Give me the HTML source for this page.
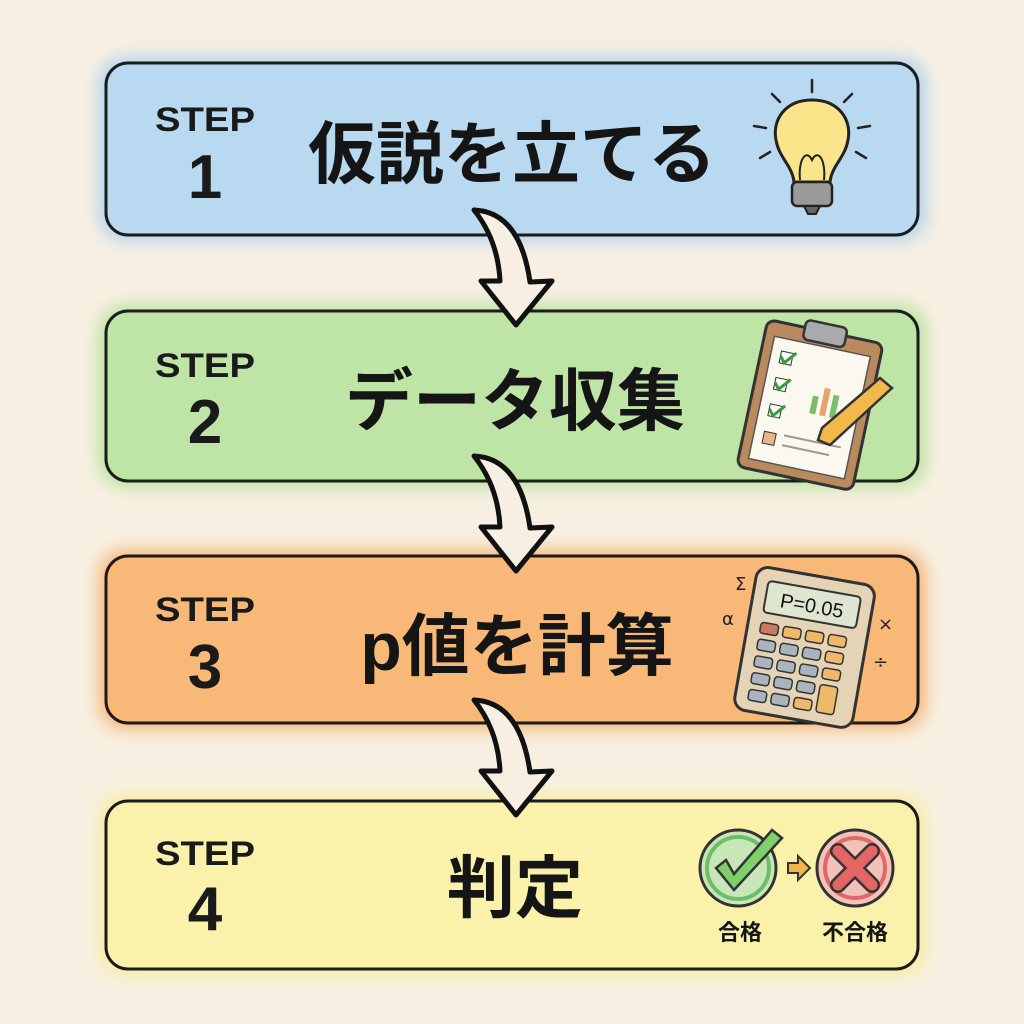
<!DOCTYPE html>
<html><head><meta charset="utf-8"><style>
html,body{margin:0;padding:0;background:#f7f0e2;}
svg{display:block}
.step{font-family:"Liberation Sans","Noto Sans CJK JP",sans-serif;font-weight:700;fill:#1a1a1a}
.t{font-family:"Liberation Sans","Noto Sans CJK JP",sans-serif;font-weight:700;fill:#151515}
</style></head><body>
<svg width="1024" height="1024" viewBox="0 0 1024 1024" xmlns="http://www.w3.org/2000/svg">
<defs>
<filter id="g" x="-10%" y="-30%" width="120%" height="160%"><feGaussianBlur stdDeviation="9"/></filter>
</defs>
<rect width="1024" height="1024" fill="#f7f0e2"/>
<rect x="100" y="58" width="825" height="182" rx="24" fill="#a9d0ef" filter="url(#g)"/>
<rect x="100" y="306" width="825" height="180" rx="24" fill="#b2e096" filter="url(#g)"/>
<rect x="100" y="551" width="825" height="177" rx="24" fill="#f6ad6a" filter="url(#g)"/>
<rect x="100" y="796" width="825" height="178" rx="24" fill="#f8eb98" filter="url(#g)"/>
<rect x="106" y="63" width="812" height="172" rx="22" fill="#b9d9f1" stroke="#1b1b1b" stroke-width="3"/>
<rect x="106" y="311" width="812" height="170" rx="22" fill="#bfe5a6" stroke="#1b1b1b" stroke-width="3"/>
<rect x="106" y="556" width="812" height="167" rx="22" fill="#f8b877" stroke="#1b1b1b" stroke-width="3"/>
<rect x="106" y="801" width="812" height="168" rx="22" fill="#faf1aa" stroke="#1b1b1b" stroke-width="3"/>
<g class="step" text-anchor="middle">
<text x="205" y="131" font-size="34" textLength="100" lengthAdjust="spacingAndGlyphs">STEP</text><text x="205" y="198" font-size="62">1</text>
<text x="205" y="377" font-size="34" textLength="100" lengthAdjust="spacingAndGlyphs">STEP</text><text x="205" y="443" font-size="62">2</text>
<text x="205" y="621" font-size="34" textLength="100" lengthAdjust="spacingAndGlyphs">STEP</text><text x="205" y="688" font-size="62">3</text>
<text x="205" y="865" font-size="34" textLength="100" lengthAdjust="spacingAndGlyphs">STEP</text><text x="205" y="930" font-size="62">4</text>
</g>
<g class="t" text-anchor="middle" font-size="68">
<text x="512" y="178">仮説を立てる</text>
<text x="515" y="425">データ収集</text>
<text x="517" y="670">p値を計算</text>
<text x="515" y="912">判定</text>
</g>
<g fill="#f7f0e2" stroke="#111" stroke-width="5" stroke-linejoin="round">
<path d="M474,210 Q520,212 530,282 L552,281 L516,325 L481,281 L500,281 Q498,240 474,210 Z"/>
<path d="M474,456 Q520,458 530,528 L552,527 L516,571 L481,527 L500,527 Q498,486 474,456 Z"/>
<path d="M474,700 Q520,702 530,772 L552,771 L516,815 L481,771 L500,771 Q498,730 474,700 Z"/>
</g>
<g stroke="#222" stroke-width="2.5" stroke-linecap="round">
<line x1="812" y1="92" x2="812" y2="80"/><line x1="780" y1="102" x2="772" y2="94"/><line x1="844" y1="102" x2="852" y2="94"/>
<line x1="766" y1="128" x2="754" y2="126"/><line x1="858" y1="128" x2="870" y2="126"/><line x1="770" y1="152" x2="760" y2="158"/><line x1="856" y1="152" x2="866" y2="158"/>
</g>
<path d="M812,100 C785,100 772,120 776,140 C779,158 792,165 794,182 L830,182 C832,165 845,158 848,140 C852,120 839,100 812,100 Z" fill="#fbe58a" stroke="#222" stroke-width="3"/>
<path d="M800,180 C798,160 806,148 812,160 C818,148 826,160 824,180" fill="none" stroke="#222" stroke-width="2"/>
<rect x="792" y="182" width="40" height="24" rx="5" fill="#9a9a9a" stroke="#222" stroke-width="2.5"/>
<path d="M804,206 L820,206 L816,214 L808,214 Z" fill="#666" stroke="#222" stroke-width="2"/>
<g transform="rotate(12 810 400)">
<rect x="752" y="330" width="118" height="150" rx="8" fill="#b98a5e" stroke="#333" stroke-width="3"/>
<rect x="762" y="345" width="98" height="125" fill="#fbf8f0" stroke="#555" stroke-width="1.5"/>
<rect x="790" y="322" width="42" height="20" rx="5" fill="#aaa" stroke="#333" stroke-width="2.5"/>
<rect x="772" y="358" width="12" height="12" fill="#fff" stroke="#333"/><rect x="772" y="385" width="12" height="12" fill="#fff" stroke="#333"/><rect x="772" y="412" width="12" height="12" fill="#fff" stroke="#333"/><rect x="772" y="440" width="12" height="12" fill="#e9b48a" stroke="#333"/>
<path d="M772,363 l5,6 l10,-12 M772,390 l5,6 l10,-12 M772,417 l5,6 l10,-12" stroke="#3a9a3a" stroke-width="3" fill="none"/>
<rect x="812" y="395" width="6" height="18" fill="#7bbf6a"/><rect x="822" y="385" width="6" height="28" fill="#e9a36a"/><rect x="832" y="390" width="6" height="23" fill="#7bbf6a"/>
<line x1="792" y1="440" x2="850" y2="440" stroke="#999" stroke-width="2"/><line x1="792" y1="450" x2="840" y2="450" stroke="#999" stroke-width="2"/>
</g>
<path d="M880,378 L892,388 L830,445 L818,440 L822,428 Z" fill="#f2b94a" stroke="#333" stroke-width="2.5"/>
<g transform="rotate(10 805 645)">
<rect x="745" y="575" width="120" height="145" rx="12" fill="#e5d3b5" stroke="#333" stroke-width="3"/>
<rect x="758" y="588" width="94" height="32" rx="4" fill="#dfe6cf" stroke="#333" stroke-width="2"/>
<text x="805" y="612" text-anchor="middle" font-family="Liberation Sans,sans-serif" font-size="20" fill="#111">P=0.05</text>
<g fill="#a9b4bd" stroke="#333" stroke-width="1.5">
<rect x="758" y="630" width="18" height="11" rx="3" fill="#c97a60"/><rect x="781" y="630" width="18" height="11" rx="3" fill="#f0b96a"/><rect x="804" y="630" width="18" height="11" rx="3" fill="#f0b96a"/><rect x="827" y="630" width="18" height="11" rx="3" fill="#f0b96a"/>
<rect x="758" y="647" width="18" height="11" rx="3"/><rect x="781" y="647" width="18" height="11" rx="3"/><rect x="804" y="647" width="18" height="11" rx="3"/><rect x="827" y="647" width="18" height="11" rx="3" fill="#f0b96a"/>
<rect x="758" y="664" width="18" height="11" rx="3"/><rect x="781" y="664" width="18" height="11" rx="3"/><rect x="804" y="664" width="18" height="11" rx="3"/><rect x="827" y="664" width="18" height="11" rx="3" fill="#f0b96a"/>
<rect x="758" y="681" width="18" height="11" rx="3"/><rect x="781" y="681" width="18" height="11" rx="3"/><rect x="804" y="681" width="18" height="11" rx="3"/><rect x="827" y="681" width="18" height="28" rx="3" fill="#f0b96a"/>
<rect x="758" y="698" width="18" height="11" rx="3"/><rect x="781" y="698" width="18" height="11" rx="3"/><rect x="804" y="698" width="18" height="11" rx="3" fill="#f0b96a"/>
</g></g>
<g font-family="DejaVu Sans,sans-serif" font-size="18" fill="#222"><text x="735" y="590">Σ</text><text x="722" y="625">α</text><text x="878" y="630">×</text><text x="873" y="668">÷</text></g>
<circle cx="738" cy="868" r="38" fill="#c9e6b8" stroke="#333" stroke-width="3"/>
<circle cx="738" cy="868" r="31" fill="none" stroke="#6cbf6a" stroke-width="4"/>
<path d="M716,868 L734,890 L782,838 L772,830 L734,874 L726,860 Z" fill="#7fcf6a" stroke="#333" stroke-width="2.5"/>
<path d="M788,868 h10 v-7 l12,12 l-12,12 v-7 h-10 Z" fill="#f2b54a" stroke="#333" stroke-width="2" transform="translate(0,-5)"/>
<circle cx="855" cy="868" r="38" fill="#f2c2b8" stroke="#333" stroke-width="3"/>
<circle cx="855" cy="868" r="30" fill="none" stroke="#e06868" stroke-width="4"/>
<path d="M838,851 L855,868 M872,851 L855,868 M838,885 L855,868 M872,885 L855,868" stroke="#333" stroke-width="16" stroke-linecap="round"/>
<path d="M838,851 L872,885 M872,851 L838,885" stroke="#e56565" stroke-width="11" stroke-linecap="round"/>
<g class="t" font-size="22" text-anchor="middle"><text x="740" y="940">合格</text><text x="855" y="940">不合格</text></g>
</svg>
</body></html>
